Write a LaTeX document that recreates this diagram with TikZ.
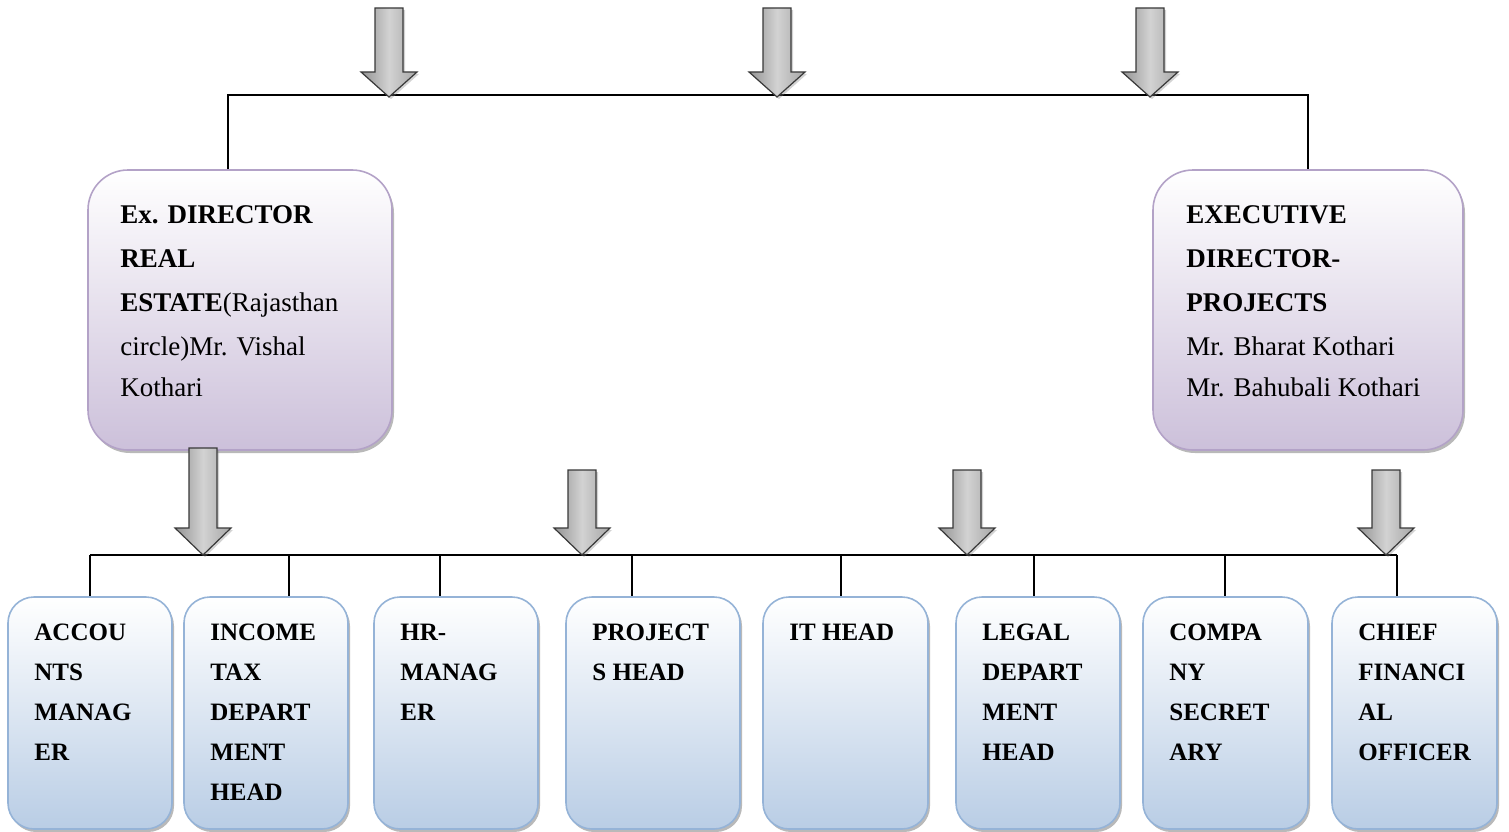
\documentclass[tikz,border=0pt]{standalone}
\usepackage{fontspec}
\setmainfont{Liberation Serif}
\usepackage{tikz}
\usetikzlibrary{calc,shadows}

\definecolor{lavbot}{RGB}{204,192,218}
\definecolor{lavline}{RGB}{179,162,199}
\definecolor{bluebot}{RGB}{185,205,229}
\definecolor{blueline}{RGB}{149,179,215}

\tikzset{
  dirbox/.style={draw=lavline, line width=1.6pt, rounded corners=40pt,
    top color=white, bottom color=lavbot, inner sep=0pt,
    drop shadow={shadow xshift=2pt, shadow yshift=-3pt, opacity=0.55}},
  headbox/.style={draw=blueline, line width=1.6pt, rounded corners=26pt,
    top color=white, bottom color=bluebot, inner sep=0pt,
    drop shadow={shadow xshift=2pt, shadow yshift=-3pt, opacity=0.55}},
  dirtext/.style={anchor=north west, inner sep=0pt, align=left,
    font=\fontsize{27}{44}\selectfont},
  headtext/.style={anchor=north west, inner sep=0pt, align=left,
    font=\fontsize{25}{40}\selectfont\bfseries},
  orgline/.style={draw=black, line width=1.3pt},
  blockarrow/.style={draw=gray!45!black, line width=1.2pt,
    left color=gray!85, right color=gray!70, middle color=gray!35,
    drop shadow={shadow xshift=2pt, shadow yshift=-2pt, opacity=0.35}}
}

\begin{document}
\begin{tikzpicture}[x=1pt,y=-1pt]
  \useasboundingbox (0,0) rectangle (1509,832);

  %% Connector lines of the chart
  \coordinate (TL) at (228,95);
  \coordinate (TR) at (1308,95);
  \coordinate (BLFT) at (90,555);
  \coordinate (BRGT) at (1397,555);

  %% Directors
  \node[dirbox, minimum width=304pt, minimum height=280pt] (EXRE) at (240,310) {};
  \node[dirbox, minimum width=310pt, minimum height=280pt] (EXPR) at (1308,310) {};

  \draw[orgline] (EXRE.north -| TL) -- (TL) -- (TR) -- (EXPR.north);

  \node[dirtext] (EXRETXT) at ($(EXRE.north west)+(33,36)$)
  {\textbf{Ex. DIRECTOR}\\ \textbf{REAL}\\ \textbf{ESTATE}(Rajasthan\\ circle)Mr. Vishal\\[-3pt] Kothari};
  \node[dirtext] (EXPRTXT) at ($(EXPR.north west)+(34,36)$)
  {\textbf{EXECUTIVE}\\ \textbf{DIRECTOR-}\\ \textbf{PROJECTS}\\ Mr. Bharat Kothari\\[-3pt] Mr. Bahubali Kothari};

  %% Department heads
  \draw[orgline] (BLFT) -- (BRGT);
  \foreach \i/\l/\r/\x in {1/8/172/90, 2/184/348/289, 3/374/538/440, 4/566/740/632,
                          5/763/928/841, 6/956/1120/1034, 7/1143/1308/1225, 8/1332/1497/1397}
  {
    \pgfmathsetmacro\w{\r-\l}
    \coordinate (DR\i) at (\x,555);
    \node[headbox, minimum width=\w pt, minimum height=232pt] (BOX\i) at ({(\l+\r)/2},713) {};
    \draw[orgline] (DR\i) -- (DR\i |- BOX\i.north);
  }

  \foreach \i/\t in {1/{ACCOU\\NTS\\MANAG\\ER},
                     2/{INCOME\\TAX\\DEPART\\MENT\\HEAD},
                     3/{HR-\\MANAG\\ER},
                     4/{PROJECT\\S HEAD},
                     5/{IT HEAD},
                     6/{LEGAL\\DEPART\\MENT\\HEAD},
                     7/{COMPA\\NY\\SECRET\\ARY},
                     8/{CHIEF\\FINANCI\\AL\\OFFICER}}
  {
    \node[headtext] (TXT\i) at ($(BOX\i.north west)+(27,28)$) {\t};
  }

  %% Block arrows pointing on the lines
  \foreach \x/\t/\h/\tip in {389/8/72/97, 777/8/72/97, 1150/8/72/97,
                             203/448/528/555, 582/470/528/555, 967/470/528/555, 1386/470/528/555}
  {
    \draw[blockarrow] (\x-14,\t) -- (\x+14,\t) -- (\x+14,\h) -- (\x+28,\h)
      -- (\x,\tip) -- (\x-28,\h) -- (\x-14,\h) -- cycle;
  }
\end{tikzpicture}
\end{document}
